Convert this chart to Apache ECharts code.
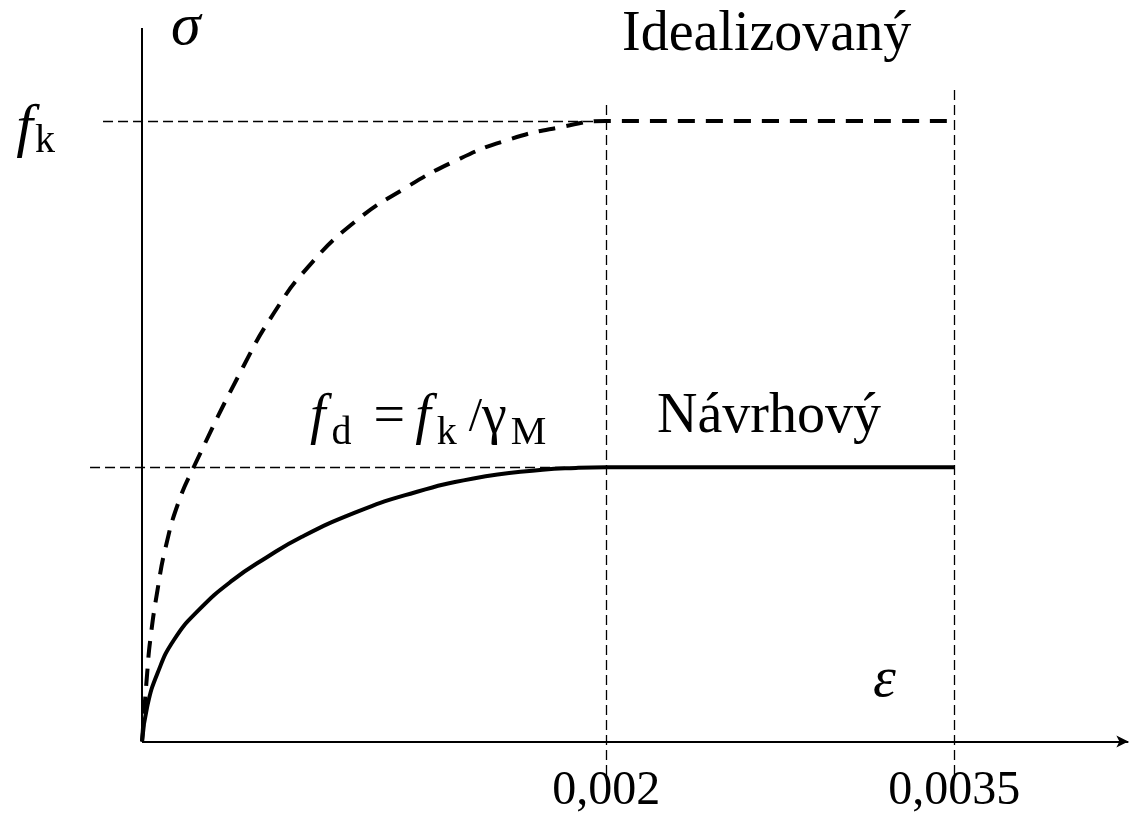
<!DOCTYPE html>
<html>
<head>
<meta charset="utf-8">
<script src="https://cdn.jsdelivr.net/npm/echarts@6/dist/echarts.min.js"></script>
<style>
html, body { margin: 0; padding: 0; background: #fff; }
#main { width: 1133px; height: 816px; }
</style>
</head>
<body>
<div id="main"></div>
<script>
// idealizovany (charakteristicky) diagram, fk = 1
const strainIdeal = [0, 0.0000222, 0.0000356, 0.0000667, 0.0001023, 0.0001557, 0.0002224, 0.000436, 0.000569, 0.000716, 0.000912, 0.001134, 0.001356, 0.001579, 0.001801, 0.002, 0.0035];
const stressIdeal = [0, 0.110, 0.164, 0.244, 0.314, 0.384, 0.442, 0.604, 0.691, 0.765, 0.836, 0.892, 0.937, 0.970, 0.990, 1.0, 1.0];

// navrhovy diagram, fd = fk / gamma_M
const strainDesign = [0, 0.0000222, 0.0000667, 0.000138, 0.000245, 0.000391, 0.000538, 0.000689, 0.000912, 0.001134, 0.001428, 0.001726, 0.00187, 0.002, 0.0035];
const stressDesign = [0, 0.056, 0.110, 0.164, 0.212, 0.260, 0.297, 0.330, 0.368, 0.397, 0.424, 0.438, 0.441, 0.442, 0.442];

const fk = 1.0;
const fd = 0.442;
const epsC2 = 0.002;
const epsCu = 0.0035;

const tickValues = [0.002, 0.0035];
const tickLabels = ['0,002', '0,0035'];

const serif = '"Liberation Serif", "DejaVu Serif", serif';

function zip(xs, ys) {
    let out = [];
    for (let i = 0; i < xs.length; i = i + 1) {
        out.push([xs[i], ys[i]]);
    }
    return out;
}

let myChart = echarts.init(document.getElementById('main'));

let guide = { type: [10, 5], width: 1.3, color: '#000' };
let axisStyle = { type: 'solid', width: 2, color: '#000' };

// the value axes only carry scales and labels, the visible axes (from zero) are markLines
let option = {
    animation: false,
    backgroundColor: '#fff',
    grid: { left: 84, right: 0, top: 28, bottom: 41, outerBoundsMode: 'none', containLabel: false },
    xAxis: {
        type: 'value',
        min: -0.00025,
        max: 0.00427,
        axisLine: { show: false },
        axisTick: { show: false },
        splitLine: { show: false },
        axisLabel: {
            customValues: tickValues,
            formatter: function (v) {
                let i = tickValues.indexOf(v);
                return i >= 0 ? tickLabels[i] : '';
            },
            fontFamily: serif,
            fontSize: 48,
            color: '#000',
            margin: -8
        }
    },
    yAxis: {
        type: 'value',
        min: -0.054,
        max: 1.15,
        axisLine: { show: false },
        axisTick: { show: false },
        splitLine: { show: false },
        axisLabel: {
            customValues: [fk],
            formatter: function () { return '{f|f}{s|k}'; },
            margin: 29,
            rich: {
                f: { fontFamily: serif, fontStyle: 'italic', fontSize: 60, color: '#000', padding: [16, 2, 0, 0] },
                s: { fontFamily: serif, fontSize: 40, color: '#000', padding: [40, 0, 0, 0] }
            }
        }
    },
    series: [
        {
            name: 'Idealizovaný',
            type: 'line',
            data: zip(strainIdeal, stressIdeal),
            showSymbol: false,
            symbol: 'none',
            smooth: 0.5,
            lineStyle: { color: '#000', width: 4, type: [17, 11] },
            z: 3,
            markLine: {
                silent: true,
                symbol: 'none',
                label: { show: false },
                lineStyle: guide,
                data: [
                    [{ coord: [-0.000168, fk] }, { coord: [epsC2, fk] }],
                    [{ coord: [-0.000224, fd] }, { coord: [epsC2, fd] }],
                    [{ coord: [epsC2, -0.054] }, { coord: [epsC2, 1.029] }],
                    [{ coord: [epsCu, -0.054] }, { coord: [epsCu, 1.053] }]
                ]
            }
        },
        {
            name: 'Návrhový',
            type: 'line',
            data: zip(strainDesign, stressDesign),
            showSymbol: false,
            symbol: 'none',
            smooth: 0.5,
            lineStyle: { color: '#000', width: 4, type: 'solid' },
            z: 3,
            markLine: {
                silent: true,
                label: { show: false },
                lineStyle: axisStyle,
                data: [
                    [{ coord: [0, 0], symbol: 'none' }, { coord: [0.00425, 0], symbol: 'arrow', symbolSize: [9, 12] }],
                    [{ coord: [0, 0], symbol: 'none' }, { coord: [0, 1.15], symbol: 'none' }]
                ]
            }
        }
    ],
    graphic: [
        {
            type: 'text', x: 171, y: 28,
            style: { text: 'σ', fontFamily: serif, fontStyle: 'italic', fontSize: 60, fill: '#000', verticalAlign: 'middle' }
        },
        {
            type: 'text', x: 622, y: 35,
            style: { text: 'Idealizovaný', fontFamily: serif, fontSize: 56, fill: '#000', verticalAlign: 'middle' }
        },
        {
            type: 'text', x: 657, y: 417,
            style: { text: 'Návrhový', fontFamily: serif, fontSize: 56, fill: '#000', verticalAlign: 'middle' }
        },
        {
            type: 'text', x: 873, y: 681,
            style: { text: 'ε', fontFamily: serif, fontStyle: 'italic', fontSize: 58, fill: '#000', verticalAlign: 'middle' }
        },
        {
            type: 'text', x: 310, y: 418,
            style: {
                text: '{f|f}{s|d}{e|=}{f|f}{s|k}{sl| /}{g|γ}{m|M}',
                verticalAlign: 'middle',
                rich: {
                    f: { fontFamily: serif, fontStyle: 'italic', fontSize: 56, fill: '#000' },
                    e: { fontFamily: serif, fontSize: 56, fill: '#000', padding: [0, 10, 0, 22] },
                    sl: { fontFamily: serif, fontSize: 48, fill: '#000' },
                    g: { fontFamily: serif, fontSize: 56, fill: '#000' },
                    s: { fontFamily: serif, fontSize: 40, fill: '#000', padding: [30, 0, 0, 6] },
                    m: { fontFamily: serif, fontSize: 40, fill: '#000', padding: [30, 0, 0, 4] }
                }
            }
        }
    ]
};

myChart.setOption(option);
</script>
</body>
</html>
